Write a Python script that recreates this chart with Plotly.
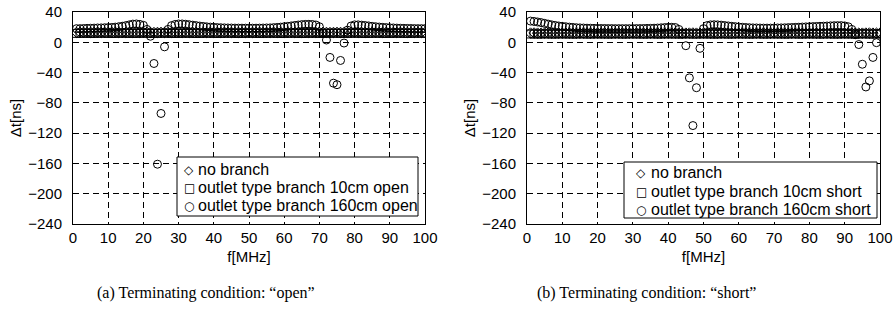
import plotly.graph_objects as go

# ---------------- data ----------------
freq_mhz = list(range(1, 101))

open_no_branch = [
    13.0, 13.2, 13.1, 12.9, 13.0, 13.1, 13.2, 13.0, 12.9, 13.0,
    13.1, 13.2, 13.0, 12.9, 13.0, 13.1, 13.0, 12.9, 13.0, 13.1,
    13.2, 13.0, 12.9, 13.0, 13.1, 13.0, 12.9, 13.0, 13.1, 13.2,
    13.0, 12.9, 13.0, 13.1, 13.2, 13.0, 12.9, 13.0, 13.1, 13.0,
    12.9, 13.0, 13.1, 13.2, 13.0, 12.9, 13.0, 13.1, 13.0, 12.9,
    13.0, 13.1, 13.2, 13.0, 12.9, 13.0, 13.1, 13.0, 12.9, 13.0,
    13.1, 13.2, 13.0, 12.9, 13.0, 13.1, 13.0, 12.9, 13.0, 13.1,
    13.2, 13.0, 12.9, 13.0, 13.1, 13.0, 12.9, 13.0, 13.1, 13.2,
    13.0, 12.9, 13.0, 13.1, 13.2, 13.0, 12.9, 13.0, 13.1, 13.0,
    12.9, 13.0, 13.1, 13.2, 13.0, 12.9, 13.0, 13.1, 13.0, 12.9,
]
open_branch_10cm = [
    11.8, 11.9, 12.0, 11.9, 11.8, 11.9, 12.0, 12.1, 12.0, 11.9,
    11.8, 11.9, 12.0, 12.1, 12.0, 11.9, 11.8, 11.9, 12.0, 12.1,
    12.0, 11.9, 11.8, 11.9, 12.0, 12.1, 12.0, 11.9, 11.8, 11.9,
    12.0, 12.1, 12.0, 11.9, 11.8, 11.9, 12.0, 12.1, 12.0, 11.9,
    11.8, 11.9, 12.0, 12.1, 12.0, 11.9, 11.8, 11.9, 12.0, 12.1,
    12.0, 11.9, 11.8, 11.9, 12.0, 12.1, 12.0, 11.9, 11.8, 11.9,
    12.0, 12.1, 12.0, 11.9, 11.8, 11.9, 12.0, 12.1, 12.0, 11.9,
    11.8, 11.9, 12.0, 12.1, 12.0, 11.9, 11.8, 11.9, 12.0, 12.1,
    12.0, 11.9, 11.8, 11.9, 12.0, 12.1, 12.0, 11.9, 11.8, 11.9,
    12.0, 12.1, 12.0, 11.9, 11.8, 11.9, 12.0, 12.1, 12.0, 11.9,
]
open_branch_160cm = [
    18.0, 18.0, 18.2, 18.4, 18.5, 18.7, 18.9, 19.0, 19.2, 19.4,
    19.6, 20.0, 20.5, 21.2, 22.0, 23.0, 24.0, 24.2, 23.6, 22.4,
    17.0, 8.0, -28.0, -161.0, -94.0, -6.0, 17.0, 22.0, 23.5, 24.2,
    24.2, 23.8, 23.2, 22.6, 22.0, 21.4, 20.9, 20.4, 20.0, 19.7,
    19.4, 19.2, 19.0, 18.9, 18.8, 18.7, 18.7, 18.6, 18.6, 18.6,
    18.6, 18.6, 18.7, 18.8, 18.9, 19.0, 19.3, 19.6, 20.0, 20.5,
    21.0, 21.6, 22.2, 22.8, 23.3, 23.6, 23.7, 23.5, 22.8, 20.5,
    12.0, 3.0, -20.0, -54.0, -56.0, -24.0, -1.0, 16.0, 21.5, 23.0,
    23.0, 22.6, 22.1, 21.6, 21.0, 20.5, 20.1, 19.7, 19.4, 19.1,
    18.9, 18.7, 18.5, 18.4, 18.3, 18.2, 18.1, 18.0, 18.0, 18.0,
]

short_no_branch = [
    12.2, 12.3, 12.1, 12.0, 12.1, 12.2, 12.3, 12.1, 12.0, 12.1,
    12.2, 12.3, 12.1, 12.0, 12.1, 12.2, 12.3, 12.1, 12.0, 12.1,
    12.2, 12.3, 12.1, 12.0, 12.1, 12.2, 12.3, 12.1, 12.0, 12.1,
    12.2, 12.3, 12.1, 12.0, 12.1, 12.2, 12.3, 12.1, 12.0, 12.1,
    12.2, 12.3, 12.1, 12.0, 12.1, 12.2, 12.3, 12.1, 12.0, 12.1,
    12.2, 12.3, 12.1, 12.0, 12.1, 12.2, 12.3, 12.1, 12.0, 12.1,
    12.2, 12.3, 12.1, 12.0, 12.1, 12.2, 12.3, 12.1, 12.0, 12.1,
    12.2, 12.3, 12.1, 12.0, 12.1, 12.2, 12.3, 12.1, 12.0, 12.1,
    12.2, 12.3, 12.1, 12.0, 12.1, 12.2, 12.3, 12.1, 12.0, 12.1,
    12.2, 12.3, 12.1, 12.0, 12.1, 12.2, 12.3, 12.1, 12.0, 12.1,
]
short_branch_10cm = [
    11.0, 11.1, 10.9, 11.0, 11.2, 11.1, 10.9, 11.0, 11.1, 11.2,
    11.0, 11.1, 10.9, 11.0, 11.2, 11.1, 10.9, 11.0, 11.1, 11.2,
    11.0, 11.1, 10.9, 11.0, 11.2, 11.1, 10.9, 11.0, 11.1, 11.2,
    11.0, 11.1, 10.9, 11.0, 11.2, 11.1, 10.9, 11.0, 11.1, 11.2,
    11.0, 11.1, 10.9, 11.0, 11.2, 11.1, 10.9, 11.0, 11.1, 11.2,
    11.0, 11.1, 10.9, 11.0, 11.2, 11.1, 10.9, 11.0, 11.1, 11.2,
    11.0, 11.1, 10.9, 11.0, 11.2, 11.1, 10.9, 11.0, 11.1, 11.2,
    11.0, 11.1, 10.9, 11.0, 11.2, 11.1, 10.9, 11.0, 11.1, 11.2,
    11.0, 11.1, 10.9, 11.0, 11.2, 11.1, 10.9, 11.0, 11.1, 11.2,
    11.0, 11.1, 10.9, 11.0, 11.2, 11.1, 10.9, 11.0, 11.1, 11.2,
]
short_branch_160cm = [
    28.0, 27.5, 26.8, 26.0, 25.0, 24.0, 23.0, 22.2, 21.5, 21.0,
    20.5, 20.0, 19.6, 19.2, 19.0, 18.8, 18.6, 18.5, 18.4, 18.3,
    18.2, 18.2, 18.1, 18.1, 18.0, 18.0, 18.0, 18.0, 18.0, 18.0,
    18.1, 18.1, 18.2, 18.3, 18.4, 18.6, 18.8, 19.1, 19.4, 19.7,
    19.8, 19.5, 17.0, 11.0, -4.5, -47.0, -110.0, -60.0, -8.0, 18.0,
    22.0, 23.0, 23.2, 23.0, 22.6, 22.1, 21.6, 21.1, 20.6, 20.2,
    19.8, 19.5, 19.2, 19.0, 18.9, 18.8, 18.7, 18.7, 18.7, 18.8,
    18.9, 19.0, 19.1, 19.3, 19.5, 19.7, 19.9, 20.1, 20.3, 20.5,
    20.7, 20.9, 21.1, 21.3, 21.5, 21.7, 21.9, 22.0, 22.0, 21.6,
    20.5, 17.0, 10.0, -3.0, -29.0, -59.0, -51.0, -20.0, -0.5, 12.0,
]

x_ticks = [0, 10, 20, 30, 40, 50, 60, 70, 80, 90, 100]
y_ticks = [-240, -200, -160, -120, -80, -40, 0, 40]

legend_names_open = ["no branch", "outlet type branch 10cm open", "outlet type branch 160cm open"]
legend_names_short = ["no branch", "outlet type branch 10cm short", "outlet type branch 160cm short"]
legend_glyphs = ["\u25c7", "\u25a1", "\u25cb"]
captions = ["(a) Terminating condition: \u201copen\u201d", "(b) Terminating condition: \u201cshort\u201d"]

# ---------------- figure ----------------
W, H = 893, 314

def px(x):
    return x / W

def py(y):
    return 1 - y / H

SANS = "Liberation Sans, Arial, Helvetica, sans-serif"
SERIF = "Liberation Serif, Times New Roman, serif"
symbols = ["diamond-open", "square-open", "circle-open"]
TICK_FS = 15
LEG_FS = 16

fig = go.Figure()

panels = [
    (open_no_branch, open_branch_10cm, open_branch_160cm, legend_names_open, "x", "y"),
    (short_no_branch, short_branch_10cm, short_branch_160cm, legend_names_short, "x2", "y2"),
]
for s0, s1, s2, names, xa, ya in panels:
    for series, name, sym in zip([s0, s1, s2], names, symbols):
        fig.add_trace(go.Scatter(
            x=freq_mhz, y=series, mode="markers", name=name,
            xaxis=xa, yaxis=ya, showlegend=False,
            marker=dict(symbol=sym, size=8, color="black", line=dict(width=1, color="black")),
        ))

def xax(domain, anchor):
    return dict(domain=domain, range=[0, 100], tickvals=x_ticks, anchor=anchor,
                showline=True, mirror=True, linecolor="black", linewidth=1,
                ticks="outside", ticklen=0, tickcolor="white",
                showgrid=True, gridcolor="black", gridwidth=1, griddash="6px,4px",
                zeroline=False, tickfont=dict(family=SANS, size=TICK_FS, color="black"),
                title=dict(text="f[MHz]", font=dict(family=SANS, size=TICK_FS, color="black"), standoff=6))

def yax(domain, anchor):
    return dict(domain=domain, range=[-240, 40], tickvals=y_ticks, anchor=anchor,
                showline=True, mirror=True, linecolor="black", linewidth=1,
                ticks="outside", ticklen=7, tickcolor="white",
                showgrid=True, gridcolor="black", gridwidth=1, griddash="6px,4px",
                zeroline=False, tickfont=dict(family=SANS, size=TICK_FS, color="black"),
                title=dict(text="\u0394t[ns]", font=dict(family=SANS, size=TICK_FS, color="black"), standoff=2))

ydom = [py(224), py(12)]

# ---- hand-made legends (pixel layout) ----
legend_specs = [
    # names, box x0, x1, y0, y1, symbol x, text x, row centres
    (legend_names_open, 177, 418, 157, 216, 189, 196, [169, 187, 205]),
    (legend_names_short, 624, 877, 162, 218, 641, 649, [172, 191, 209]),
]
shapes, annotations = [], []
for names, bx0, bx1, by0, by1, sx, tx, rows in legend_specs:
    shapes.append(dict(type="rect", xref="paper", yref="paper",
                       x0=px(bx0), x1=px(bx1), y0=py(by1), y1=py(by0),
                       line=dict(color="black", width=1), fillcolor="white", layer="above"))
    for name, glyph, ry in zip(names, legend_glyphs, rows):
        annotations.append(dict(text=name, x=px(tx), y=py(ry), xref="paper", yref="paper",
                                xanchor="left", yanchor="middle", showarrow=False,
                                font=dict(family=SANS, size=LEG_FS, color="black")))
        annotations.append(dict(text=glyph, x=px(sx), y=py(ry + 1), xref="paper", yref="paper",
                                xanchor="center", yanchor="middle", showarrow=False,
                                font=dict(family="DejaVu Sans", size=12, color="black")))

for cap, cx in zip(captions, [206, 646]):
    annotations.append(dict(text=cap, x=px(cx), y=py(293), xref="paper", yref="paper",
                            xanchor="center", yanchor="middle", showarrow=False,
                            font=dict(family=SERIF, size=16, color="black")))

fig.update_layout(
    width=W, height=H,
    margin=dict(l=0, r=0, t=0, b=0, autoexpand=False),
    paper_bgcolor="white", plot_bgcolor="white",
    font=dict(family=SANS, size=TICK_FS, color="black"),
    showlegend=False,
    hovermode=False,
    xaxis=xax([px(73), px(425)], "y"),
    yaxis=yax(ydom, "x"),
    xaxis2=xax([px(527), px(880)], "y2"),
    yaxis2=yax(ydom, "x2"),
    shapes=shapes,
    annotations=annotations,
)

# remove the page's default 8px body margin so the figure fills the window exactly
fig.write_html("out.html",
               config={"displayModeBar": False},
               post_script="document.body.style.margin='0px';document.body.style.overflow='hidden';")
